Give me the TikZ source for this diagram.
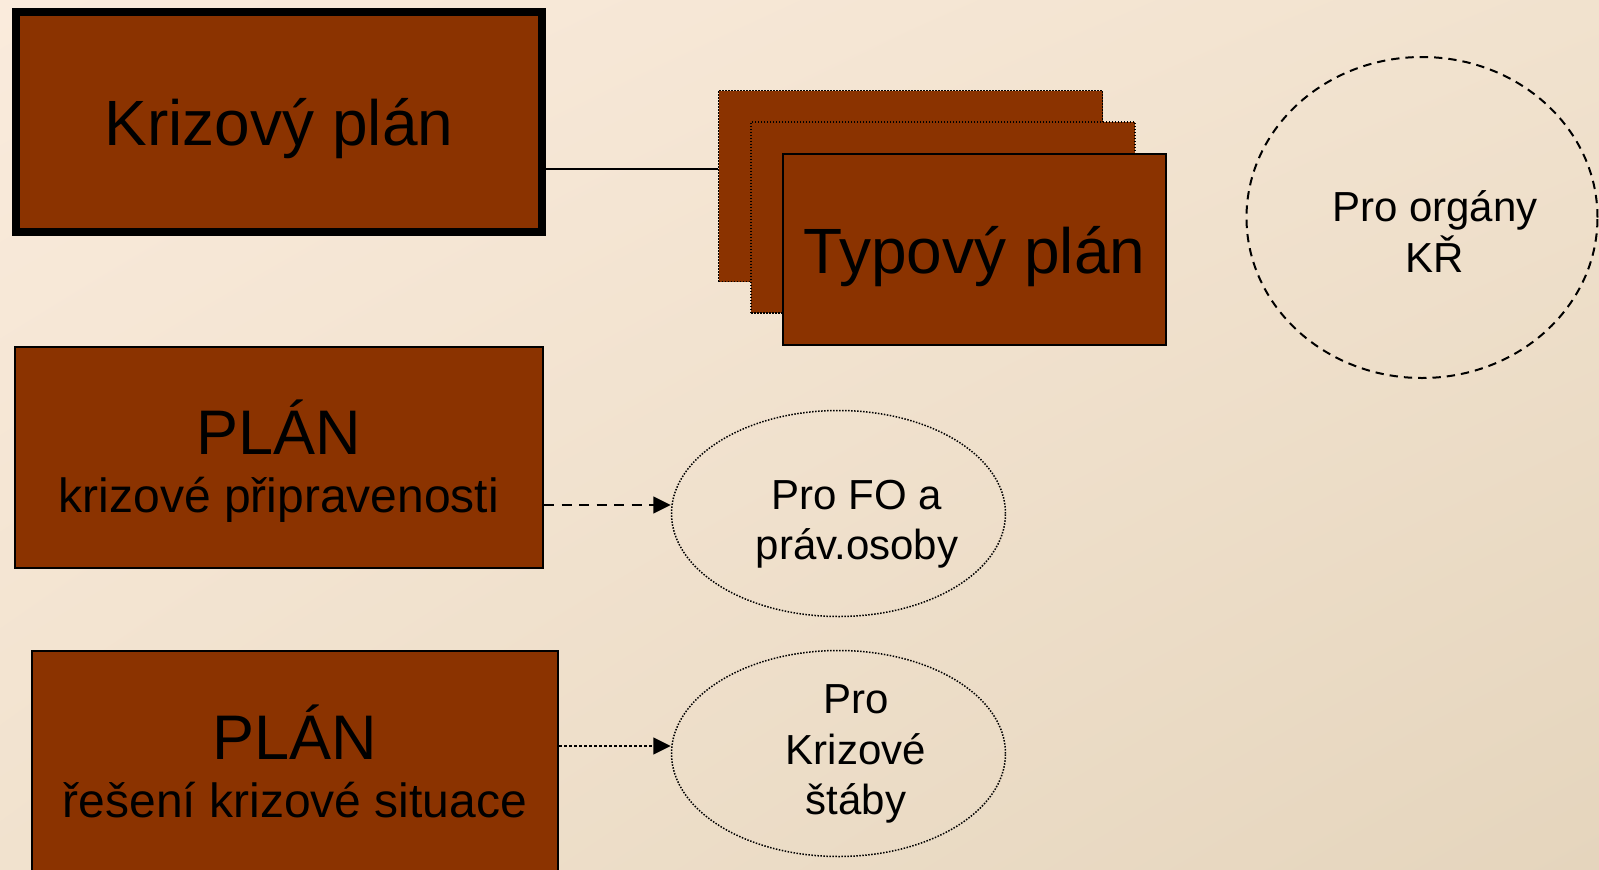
\documentclass[tikz,border=0pt]{standalone}
\usepackage{fontspec}
\setmainfont{Liberation Sans}
\usepackage{tikz}
\usetikzlibrary{shapes.geometric}
\usetikzlibrary{shadings}
\usetikzlibrary{arrows.meta}

\definecolor{hneda}{RGB}{139,51,0}
\definecolor{pozadiA}{RGB}{250,235,220}
\definecolor{pozadiB}{RGB}{241,226,206}
\definecolor{pozadiC}{RGB}{229,213,189}

\newcommand{\pismoNadpis}{\fontsize{38.4}{46}\selectfont}
\newcommand{\pismoVelke}{\fontsize{37.8}{34.8}\selectfont}
\newcommand{\pismoStredni}{\fontsize{28.8}{34.8}\selectfont}
\newcommand{\pismoMale}{\fontsize{25.2}{30.3}\selectfont}

\begin{document}
\begin{tikzpicture}[x=0.6pt,y=0.6pt,yscale=-1,xscale=1,
		plan/.style={draw=black, fill=hneda, inner sep=0pt, align=center},
		vrstva/.style={draw=black, fill=hneda, inner sep=0pt, line width=0.9pt, dash pattern=on 0.9pt off 0.9pt},
		kruh/.style={ellipse, draw=black, inner sep=0pt},
		popis/.style={align=center, inner sep=0pt, font=\pismoMale},
		sipka/.style={-{Triangle[length=10.5pt,width=10pt]}}]
			\useasboundingbox (0,0) rectangle (1599,869);
			\clip (0,0) rectangle (1599,869);
			
			%Background
			\shade[upper left=pozadiA, upper right=pozadiB, lower left=pozadiB, lower right=pozadiC] (0,0) rectangle (1599,869);
			
			%Boxes on the left
			\node[plan, line width=4.8pt, text depth=0pt, minimum width=526*0.6pt, minimum height=220*0.6pt, font=\pismoNadpis] (krizovy) at (279,122) {Krizový plán};
			\node[plan, line width=1.2pt, text depth=1pt, minimum width=528*0.6pt, minimum height=221*0.6pt, font=\pismoVelke] (pripravenost) at (279,457.5) {PLÁN\\{\pismoStredni krizové připravenosti}};
			\node[plan, line width=1.2pt, minimum width=526*0.6pt, minimum height=221*0.6pt, font=\pismoVelke] (reseni) at (295,761.5) {PLÁN\\{\pismoStredni řešení krizové situace}};
			
			%Stack of typical plans
			\node[vrstva, minimum width=384*0.6pt, minimum height=191*0.6pt] (typA) at (910.5,186) {};
			\node[vrstva, minimum width=384*0.6pt, minimum height=191*0.6pt] (typB) at (943,217.5) {};
			\node[plan, line width=1.2pt, text depth=0pt, minimum width=383*0.6pt, minimum height=191*0.6pt, font=\pismoNadpis] (typC) at (974.5,249.5) {Typový plán};
			
			%Ovals
			\node[kruh, line width=1.2pt, dash pattern=on 5pt off 3.6pt, minimum width=351*0.6pt, minimum height=321*0.6pt] (organy) at (1422,217.5) {};
			\node[kruh, line width=0.9pt, dash pattern=on 0.9pt off 0.9pt, minimum width=334*0.6pt, minimum height=206*0.6pt] (fo) at (838.5,513.5) {};
			\node[kruh, line width=0.9pt, dash pattern=on 0.9pt off 0.9pt, minimum width=334*0.6pt, minimum height=206*0.6pt] (staby) at (838.5,753.5) {};
			
			% Text Node
			\node[popis] (organyText) at (1435,231.5) {Pro orgány\\KŘ};
			% Text Node
			\node[popis] (foText) at (857,524) {Pro FO a\\práv.osoby};
			% Text Node
			\node[popis] (stabyText) at (856,754) {Pro\\Krizové\\štáby};
			
			%Connectors
			\draw[line width=1.2pt] (krizovy.east |- 0,169) -- (typA.west |- 0,169);
			\draw[sipka, line width=1.7pt, dash pattern=on 6pt off 4.5pt] (pripravenost.east |- 0,505) -- (fo.west |- 0,505);
			\draw[sipka, line width=1.6pt, dash pattern=on 1.6pt off 1.4pt] (reseni.east |- 0,746) -- (staby.west |- 0,746);
			
\end{tikzpicture}
\end{document}
